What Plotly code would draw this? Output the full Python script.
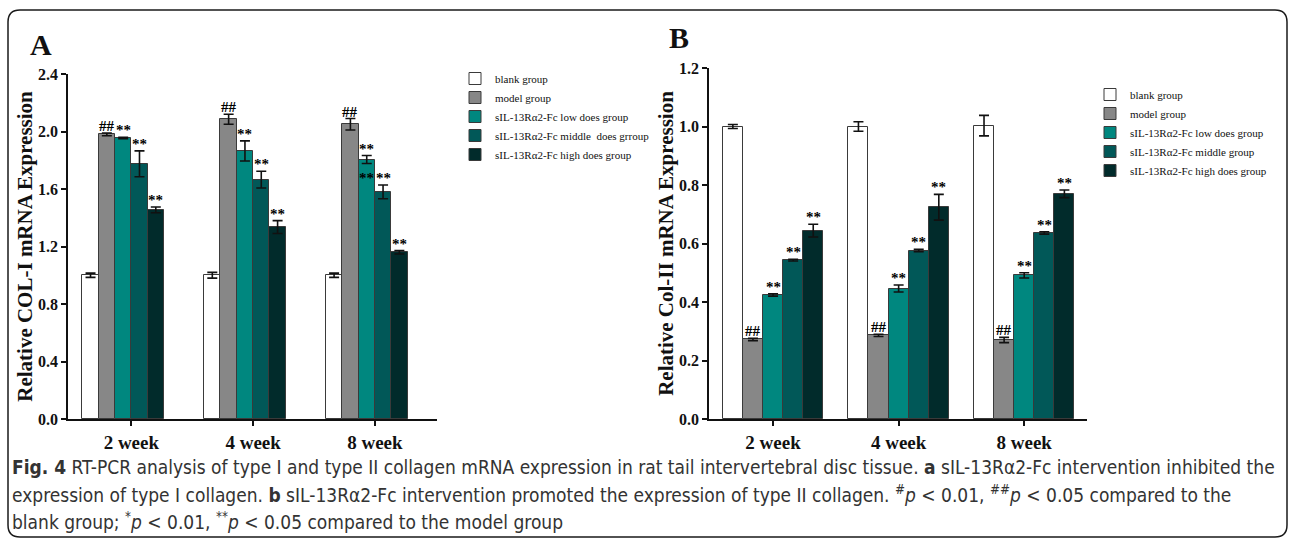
import plotly.graph_objects as go

W, H = 1295, 544

# ---------------- data ----------------
categories = ["2 week", "4 week", "8 week"]

groups_A = ["blank group", "model group", "sIL-13Rα2-Fc low does group",
            "sIL-13Rα2-Fc middle  does grroup", "sIL-13Rα2-Fc high does group"]
groups_B = ["blank group", "model group", "sIL-13Rα2-Fc low does group",
            "sIL-13Rα2-Fc middle group", "sIL-13Rα2-Fc high does group"]

colI_blank = [1.00, 1.00, 1.00]
colI_blank_err = [0.015, 0.02, 0.015]
colI_model = [1.98, 2.085, 2.05]
colI_model_err = [0.01, 0.035, 0.04]
colI_low = [1.955, 1.865, 1.805]
colI_low_err = [0.005, 0.07, 0.028]
colI_middle = [1.775, 1.665, 1.58]
colI_middle_err = [0.09, 0.058, 0.048]
colI_high = [1.455, 1.335, 1.16]
colI_high_err = [0.02, 0.045, 0.012]

colII_blank = [1.00, 1.00, 1.003]
colII_blank_err = [0.007, 0.016, 0.035]
colII_model = [0.272, 0.286, 0.27]
colII_model_err = [0.004, 0.004, 0.009]
colII_low = [0.424, 0.446, 0.491]
colII_low_err = [0.004, 0.012, 0.009]
colII_middle = [0.543, 0.576, 0.636]
colII_middle_err = [0.003, 0.004, 0.004]
colII_high = [0.644, 0.724, 0.77]
colII_high_err = [0.022, 0.044, 0.013]

marks = ["", "##", "**", "**", "**"]

caption_lines = [
    "<b>Fig. 4</b> RT-PCR analysis of type I and type II collagen mRNA expression in rat tail intervertebral disc tissue. <b>a</b> sIL-13Rα2-Fc intervention inhibited the",
    "expression of type I collagen. <b>b</b> sIL-13Rα2-Fc intervention promoted the expression of type II collagen. <sup>#</sup><i>p</i> &lt; 0.01, <sup>##</sup><i>p</i> &lt; 0.05 compared to the",
    "blank group; <sup>*</sup><i>p</i> &lt; 0.01, <sup>**</sup><i>p</i> &lt; 0.05 compared to the model group",
]

# ---------------- style ----------------
colors = ["#ffffff", "#878787", "#00877f", "#015858", "#012b2b"]
SERIF = "Liberation Serif, Times New Roman, serif"
CAP_FONT = "Liberation Sans Narrow, Arial Narrow, DejaVu Sans Condensed, sans-serif"

def px_x(p):
    return p / W

def px_y(p):
    return 1 - p / H

wA = 0.134
wB = 0.16

fig = go.Figure()

A_vals = [colI_blank, colI_model, colI_low, colI_middle, colI_high]
A_errs = [colI_blank_err, colI_model_err, colI_low_err, colI_middle_err, colI_high_err]
B_vals = [colII_blank, colII_model, colII_low, colII_middle, colII_high]
B_errs = [colII_blank_err, colII_model_err, colII_low_err, colII_middle_err, colII_high_err]

annotations = []
MARK_FONT = dict(family=SERIF, size=15, color="#000", weight="bold")

for i in range(5):
    offA = (i - 3) * wA
    fig.add_trace(go.Bar(
        x=categories, y=A_vals[i], name=groups_A[i],
        width=wA, offset=offA,
        marker=dict(color=colors[i], line=dict(color="#3a3a3a", width=1)),
        error_y=dict(type="data", array=A_errs[i], color="#111", thickness=1.6, width=5),
        xaxis="x", yaxis="y", legend="legend",
    ))
    offB = (i - 2.5) * wB
    fig.add_trace(go.Bar(
        x=categories, y=B_vals[i], name=groups_B[i],
        width=wB, offset=offB,
        marker=dict(color=colors[i], line=dict(color="#3a3a3a", width=1)),
        error_y=dict(type="data", array=B_errs[i], color="#111", thickness=1.6, width=5),
        xaxis="x2", yaxis="y2", legend="legend2",
    ))
    if marks[i]:
        for k in range(3):
            annotations.append(dict(
                x=k + offA + wA / 2, y=A_vals[i][k] + A_errs[i][k], xref="x", yref="y",
                text=marks[i], showarrow=False, xanchor="center", yanchor="bottom", yshift=-3,
                font=MARK_FONT))
            annotations.append(dict(
                x=k + offB + wB / 2, y=B_vals[i][k] + B_errs[i][k], xref="x2", yref="y2",
                text=marks[i], showarrow=False, xanchor="center", yanchor="bottom", yshift=-3,
                font=MARK_FONT))

# duplicated "**" in the 8 week group of panel A (as in the original figure)
annotations.append(dict(
    x=2 + (2 - 3) * wA + wA / 2, y=colI_middle[2] + colI_middle_err[2], xref="x", yref="y",
    text="**", showarrow=False, xanchor="center", yanchor="bottom", yshift=-3, font=MARK_FONT))

# panel letters
annotations.append(dict(x=px_x(41), y=px_y(44), xref="paper", yref="paper", text="<b>A</b>",
                        xanchor="center", yanchor="middle",
                        showarrow=False, font=dict(family=SERIF, size=30, color="#111")))
annotations.append(dict(x=px_x(679), y=px_y(38), xref="paper", yref="paper", text="<b>B</b>",
                        xanchor="center", yanchor="middle",
                        showarrow=False, font=dict(family=SERIF, size=30, color="#111")))

# caption
for j, line in enumerate(caption_lines):
    annotations.append(dict(x=px_x(10), y=px_y(467 + 27 * j), xref="paper", yref="paper",
                            xanchor="left", yanchor="middle", align="left", text=line,
                            showarrow=False,
                            font=dict(family=CAP_FONT, size=19, color="#333")))

# rounded frame
x0, x1, y0, y1, r = 8, 1287, 10, 537, 12
path = (f"M {px_x(x0 + r)},{px_y(y0)} L {px_x(x1 - r)},{px_y(y0)} "
        f"Q {px_x(x1)},{px_y(y0)} {px_x(x1)},{px_y(y0 + r)} "
        f"L {px_x(x1)},{px_y(y1 - r)} Q {px_x(x1)},{px_y(y1)} {px_x(x1 - r)},{px_y(y1)} "
        f"L {px_x(x0 + r)},{px_y(y1)} Q {px_x(x0)},{px_y(y1)} {px_x(x0)},{px_y(y1 - r)} "
        f"L {px_x(x0)},{px_y(y0 + r)} Q {px_x(x0)},{px_y(y0)} {px_x(x0 + r)},{px_y(y0)} Z")

axis_common = dict(showline=True, linecolor="#111", linewidth=1.5, ticks="outside",
                   tickcolor="#111", tickwidth=1.5, ticklen=5, showgrid=False, zeroline=False,
                   mirror=False, automargin=False)

fig.update_layout(
    width=W, height=H, margin=dict(l=0, r=0, t=0, b=0, autoexpand=False),
    paper_bgcolor="white", plot_bgcolor="white",
    barmode="overlay", bargap=0,
    shapes=[dict(type="path", path=path, xref="paper", yref="paper",
                 line=dict(color="#1a1a1a", width=1.5), layer="above")],
    annotations=annotations,
    xaxis=dict(domain=[px_x(68), px_x(437)], anchor="y", type="category",
               range=[-0.52, 2.51],
               tickfont=dict(family=SERIF, size=19, color="#111", weight="bold"),
               **axis_common),
    yaxis=dict(domain=[px_y(419), px_y(74)], anchor="x", range=[0, 2.4], dtick=0.4,
               tickformat=".1f",
               tickfont=dict(family=SERIF, size=16, color="#111", weight="bold"),
               title=dict(text="Relative COL-I mRNA Expression", standoff=0,
                          font=dict(family=SERIF, size=21, color="#111", weight="bold")),
               **axis_common),
    xaxis2=dict(domain=[px_x(709), px_x(1087)], anchor="y2", type="category",
                range=[-0.51, 2.5],
                tickfont=dict(family=SERIF, size=19, color="#111", weight="bold"),
                **axis_common),
    yaxis2=dict(domain=[px_y(419), px_y(68)], anchor="x2", range=[0, 1.2], dtick=0.2,
                tickformat=".1f",
                tickfont=dict(family=SERIF, size=16, color="#111", weight="bold"),
                title=dict(text="Relative Col-II mRNA Expression", standoff=0,
                           font=dict(family=SERIF, size=21, color="#111", weight="bold")),
                **axis_common),
    legend=dict(x=px_x(455), y=px_y(64), xanchor="left", yanchor="top",
                bgcolor="rgba(0,0,0,0)", tracegroupgap=0, itemwidth=30,
                font=dict(family=SERIF, size=11, color="#111")),
    legend2=dict(x=px_x(1090), y=px_y(80), xanchor="left", yanchor="top",
                 bgcolor="rgba(0,0,0,0)", tracegroupgap=0, itemwidth=30,
                 font=dict(family=SERIF, size=11, color="#111")),
    showlegend=True,
)

fig.write_html("out.html", config={"displayModeBar": False},
               post_script="document.body.style.margin='0';")
